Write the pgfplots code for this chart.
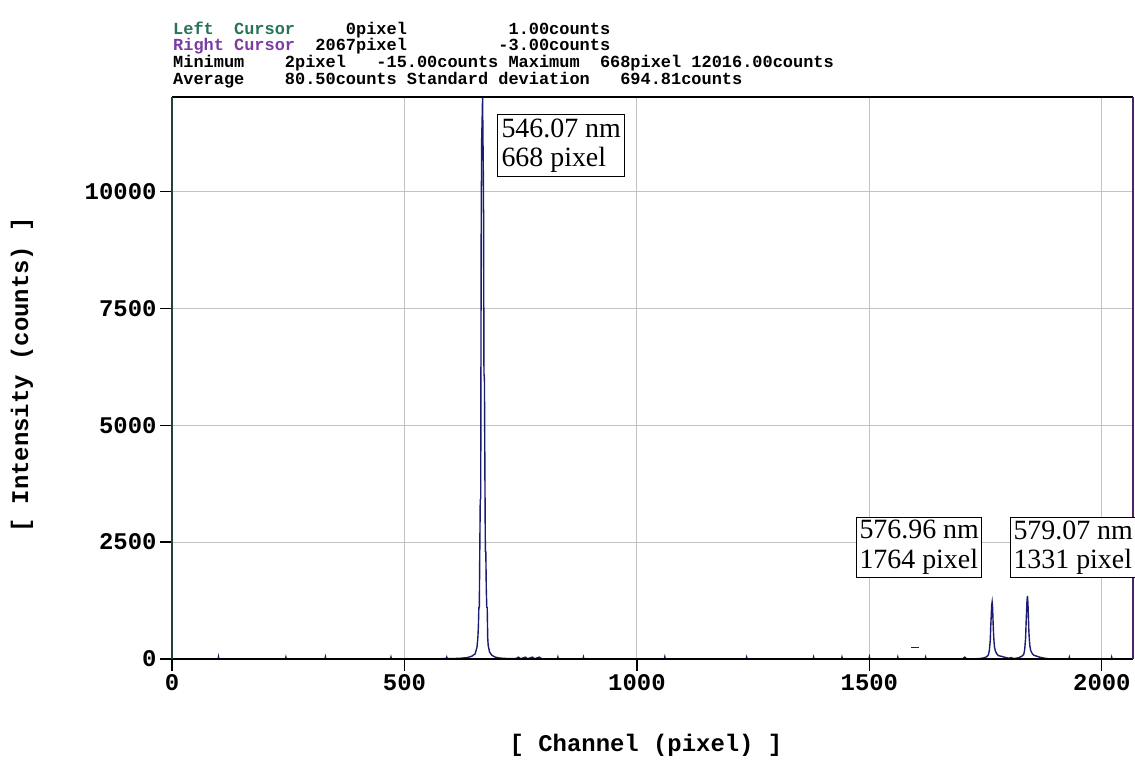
\documentclass[border=0pt]{standalone}
\usepackage{fontspec}
\setmainfont{Liberation Serif}
\setmonofont{Liberation Mono}
\usepackage{pgfplots}
\pgfplotsset{compat=1.18}
\definecolor{specblue}{RGB}{28,28,112}
\definecolor{cursgreen}{RGB}{40,115,90}
\definecolor{curspurple}{RGB}{125,60,165}
\definecolor{framegreen}{RGB}{30,70,50}
\definecolor{framepurple}{RGB}{75,35,105}
\definecolor{gridgray}{RGB}{195,195,195}
\newcommand{\hdr}{\fontsize{17}{17}\selectfont\ttfamily\bfseries}
\newcommand{\tickf}{\fontsize{24}{24}\selectfont\ttfamily\bfseries}
\newcommand{\boxf}{\fontsize{28}{30}\selectfont\rmfamily}
\begin{document}
\begin{tikzpicture}[x=1bp,y=1bp]
\path[use as bounding box] (-172,-110) rectangle (963,659);
\begin{axis}[
  at={(0,0)}, anchor=south west,
  width=961bp, height=562bp, scale only axis,
  xmin=0, xmax=2067, ymin=0, ymax=12016,
  scaled x ticks=false, scaled y ticks=false,
  axis line style={draw=none},
  tick align=outside, tick pos=left,
  major tick length=12bp,
  tick style={black, line width=1.2bp},
  xtick={0,500,1000,1500,2000},
  xticklabels={0,500,1000,1500,2000},
  ytick={0,2500,5000,7500,10000},
  yticklabels={0,2500,5000,7500,10000},
  xticklabel style={font=\tickf},
  yticklabel style={font=\tickf},
  grid=major,
  grid style={gridgray, line width=0.9bp},
  clip=true,
]
\addplot[specblue, line width=1.4bp] coordinates {
(0,1)(99,0)(100,50)(101,0)(244,0)(245,40)(246,0)(329,0)(330,45)(331,0)
(470,0)(471,40)(472,0)(560,0)(590,10)(591,40)(592,10)(600,8)(620,15)
(635,30)(645,60)(652,110)(656,250)(658,475)(659,700)(660,1100)(661,1110)
(662,2300)(663,3410)(664,3420)(665,9000)(666,11100)(667,11500)(668,12016)
(669,11000)(670,10000)(671,6100)(672,6000)(673,4000)(674,2300)(675,2290)
(676,1500)(677,1110)(678,1100)(679,470)(680,300)(683,150)(688,80)(695,40)
(705,20)(720,10)(740,8)(745,40)(750,5)(760,40)(765,5)(775,40)(780,5)
(790,40)(795,5)(800,0)(829,0)(830,40)(831,0)(884,0)(885,40)(886,0)
(1059,0)(1060,45)(1061,0)(1235,0)(1236,40)(1237,0)(1379,0)(1380,40)(1381,0)
(1440,0)(1441,40)(1442,0)(1499,0)(1500,45)(1501,0)(1560,0)(1561,40)(1562,0)
(1620,0)(1621,40)(1622,0)(1700,0)(1705,40)(1710,0)(1720,0)
(1735,8)(1745,20)(1752,45)(1756,90)(1758,180)(1760,400)(1761,700)(1762,900)
(1763,1150)(1764,1218)(1765,1100)(1766,800)(1767,550)(1768,380)(1769,260)
(1771,170)(1774,110)(1778,70)(1783,60)(1790,40)(1800,15)(1805,30)(1810,10)
(1815,15)(1822,30)(1828,60)(1832,100)(1834,200)(1836,450)(1837,750)
(1838,1000)(1839,1250)(1840,1346)(1841,1200)(1842,900)(1843,600)(1844,420)
(1845,290)(1847,180)(1850,120)(1854,80)(1860,60)(1866,40)(1875,20)(1885,5)
(1890,0)(1929,0)(1930,40)(1931,0)(2020,0)(2021,40)(2022,0)(2067,0)
};
\addplot[specblue, line width=1.4bp] coordinates {(1590,250)(1606,250)};
\end{axis}
% frame lines
\draw[black, line width=1.6bp] (0,0) -- (961,0);
\draw[black, line width=1.6bp] (0,562) -- (961,562);
\draw[framegreen, line width=2bp] (0,0) -- (0,562);
\draw[framepurple, line width=2bp] (961,0) -- (961,562);
% annotation boxes
\node[draw=black, fill=white, line width=1bp, anchor=north west, inner sep=4bp, align=left, font=\boxf] at (325,545) {546.07 nm\\668 pixel};
\node[draw=black, fill=white, line width=1bp, anchor=north west, inner sep=3bp, align=left, font=\boxf] at (684,142) {576.96 nm\\1764 pixel};
\node[draw=black, fill=white, line width=1bp, anchor=north west, inner sep=3bp, align=left, font=\boxf] at (838,142) {579.07 nm\\1331 pixel};
% header
\node[anchor=base west, inner sep=0, font=\hdr] at (1,624) {{\color{cursgreen}Left~~Cursor}~~~~~0pixel~~~~~~~~~~1.00counts};
\node[anchor=base west, inner sep=0, font=\hdr] at (1,608) {{\color{curspurple}Right Cursor}~~2067pixel~~~~~~~~~-3.00counts};
\node[anchor=base west, inner sep=0, font=\hdr] at (1,591) {Minimum~~~~2pixel~~~-15.00counts Maximum~~668pixel 12016.00counts};
\node[anchor=base west, inner sep=0, font=\hdr] at (1,574) {Average~~~~80.50counts Standard deviation~~~694.81counts};
% axis labels
\node[font=\tickf] at (474,-86) {[ Channel (pixel) ]};
\node[font=\tickf, rotate=90] at (-150,284) {[ Intensity (counts) ]};
\end{tikzpicture}
\end{document}
